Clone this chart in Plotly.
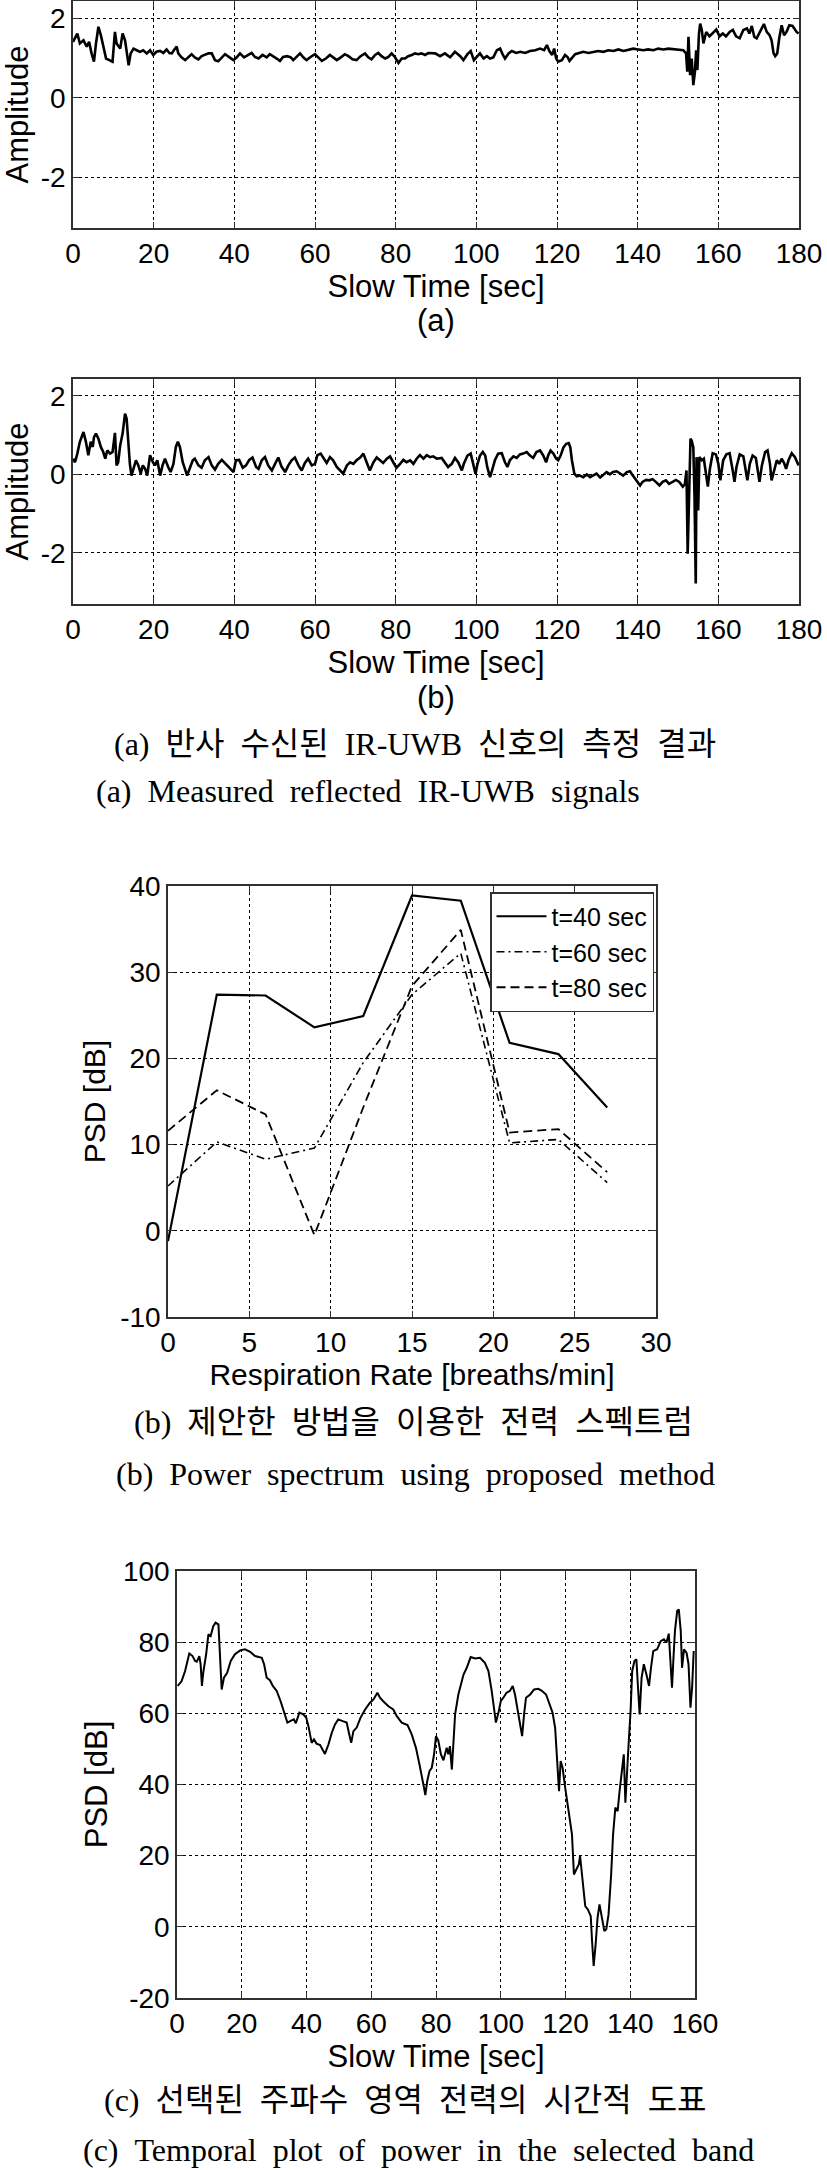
import plotly.graph_objects as go

W, H = 827, 2170

# ---------------- Panel (a): reflected signal, raw ----------------
a_t = [0, 1.07, 1.7, 2.6, 3.4, 4, 4.6, 5.2, 5.7, 6.3,
       6.9, 7.5, 8.2, 9, 9.8, 10.4, 10.8, 11.7, 12.3, 12.9,
       13.3, 13.8, 14.3, 15, 15.8, 16.6, 17.4, 18.3, 19.1, 19.9,
       20.7, 21.6, 22.4, 23.2, 23.9, 24.5, 25, 25.7, 26.1, 26.9,
       27.8, 28.6, 29.4, 30.2, 31.1, 31.9, 32.7, 33.6, 34.4, 35.2,
       36, 36.9, 37.7, 38.8, 39.8, 40.6, 41.4, 42.4, 43.5, 44.3,
       45.1, 46, 47, 48, 48.8, 49.7, 50.5, 51.3, 52.1, 53.1,
       54, 54.6, 55.5, 56.3, 57.1, 57.9, 58.9, 60, 60.8, 61.7,
       62.7, 63.7, 64.5, 65.4, 66.4, 67.4, 68.3, 69.3, 70.3, 71.3,
       72.4, 73.2, 74, 74.9, 75.7, 76.5, 77.4, 78.2, 79, 79.8,
       80.7, 81.5, 82.3, 83.1, 84, 84.8, 85.6, 86.4, 87.3, 88.1,
       89.8, 91, 92.2, 93.5, 94.7, 96, 96.8, 97.8, 98.6, 99.4,
       100.1, 100.9, 101.8, 102.6, 103.4, 104.2, 105.1, 105.9, 106.6, 107.1,
       108, 108.8, 109.9, 110.9, 112.1, 113.3, 114.6, 115.8, 116.8, 117.5,
       118.1, 118.8, 119.3, 119.8, 120.3, 121.2, 122, 122.6, 123.1, 123.6,
       124.5, 125.5, 126.5, 127.8, 129, 130.2, 131.5, 132.7, 134, 135.2,
       136.5, 137.7, 138.9, 140.2, 141.4, 142.6, 143.9, 145.1, 146.4, 147.6,
       148.9, 150.1, 151.3, 152, 152.3, 152.6, 153, 153.4, 153.8, 154.2,
       154.5, 154.8, 155.2, 155.5, 155.9, 156.3, 157, 157.8, 158.6, 159.5,
       160.3, 161.1, 161.9, 162.8, 163.6, 164.4, 165.3, 166.2, 167.1, 167.7,
       168.3, 168.9, 169.5, 170.2, 170.8, 171.3, 172, 172.7, 173.2, 173.7,
       174.1, 174.6, 175.1, 175.7, 176.3, 176.9, 177.6, 178.4, 179.4, 179.9]
a_v = [1.41, 1.62, 1.37, 1.45, 1.29, 1.41, 1.12, 0.91, 1.37, 1.79,
       1.58, 1.29, 0.99, 0.95, 0.91, 1.66, 1.37, 1.24, 1.62, 1.45,
       1.12, 0.82, 1.12, 1.24, 1.2, 1.16, 1.2, 1.12, 1.2, 1.08,
       1.16, 1.18, 1.13, 1.22, 1.13, 1.12, 1.2, 1.29, 1.12, 1.02,
       0.95, 1.02, 1.1, 1.02, 0.97, 1.05, 1.08, 1.12, 1.12, 0.95,
       0.92, 1.03, 1.1, 1.02, 0.95, 1.02, 1.12, 1.02, 1.08, 1.13,
       1.03, 0.99, 1.08, 1.02, 1.1, 1.05, 0.99, 0.93, 1.03, 1.05,
       1.02, 0.95, 1.03, 1.12, 1.02, 0.95, 1.03, 1.1, 1.02, 0.93,
       0.99, 1.08, 1.02, 0.95, 1.02, 1.1, 1.05, 0.97, 0.95, 1.05,
       1.12, 1.02, 0.97, 1.08, 1.13, 1.05, 0.99, 1.03, 1.12, 1.03,
       0.88, 0.99, 0.99, 1.05, 1.08, 1.12, 1.1, 1.12, 1.08, 1.13,
       1.12, 1.05, 1.12, 1.02, 1.16, 1.05, 0.95, 1.1, 1.18, 0.95,
       1.03, 1.12, 0.99, 1.05, 0.99, 1.02, 1.2, 1.24, 1.08, 0.99,
       1.12, 1.18, 1.13, 1.16, 1.13, 1.18, 1.2, 1.24, 1.2, 1.33,
       1.18, 1.08, 1.24, 0.99, 0.91, 0.95, 1.08, 1.03, 0.93, 0.99,
       1.1, 1.13, 1.16, 1.13, 1.16, 1.18, 1.16, 1.2, 1.18, 1.22,
       1.18, 1.22, 1.24, 1.22, 1.2, 1.22, 1.2, 1.24, 1.22, 1.24,
       1.22, 1.2, 1.2, 1.12, 0.66, 1.54, 0.57, 0.99, 0.32, 0.66,
       1.2, 0.7, 1.62, 1.87, 1.71, 1.37, 1.66, 1.55, 1.62, 1.72,
       1.55, 1.62, 1.55, 1.66, 1.71, 1.55, 1.5, 1.71, 1.75, 1.62,
       1.81, 1.54, 1.5, 1.64, 1.75, 1.86, 1.66, 1.58, 1.45, 1.12,
       1.05, 1.12, 1.5, 1.83, 1.58, 1.66, 1.83, 1.81, 1.66, 1.62]

# ---------------- Panel (b): reflected signal, processed ----------------
b_t = [0, 0.5, 1.07, 1.7, 2.6, 3.2, 3.8, 4.4, 4.9, 5.2,
       5.7, 6.3, 6.9, 7.5, 8, 8.5, 9.2, 9.8, 10.4, 10.8,
       11.2, 11.7, 12.3, 12.9, 13.3, 13.7, 14.1, 14.5, 15, 15.6,
       16.2, 16.8, 17.3, 17.9, 18.4, 19.1, 19.8, 20.3, 20.9, 21.6,
       22.2, 22.8, 23.6, 24.2, 24.9, 25.5, 26, 26.5, 27.2, 27.8,
       28.3, 29, 29.7, 30.2, 31.1, 31.9, 32.7, 33.6, 34.4, 35.2,
       36, 36.9, 37.9, 38.9, 39.8, 40.4, 41.2, 42.1, 42.9, 43.7,
       44.5, 45.4, 46, 46.8, 47.6, 48.4, 49.3, 50.1, 50.9, 51.7,
       52.6, 53.4, 54.2, 55, 55.9, 56.7, 57.5, 58.3, 59.2, 60,
       60.6, 61.4, 62.2, 62.9, 63.7, 64.5, 65.4, 66.2, 67, 67.9,
       68.7, 69.5, 70.3, 71.2, 72, 72.8, 73.6, 74.5, 75.3, 76.1,
       76.9, 77.8, 78.6, 79.4, 80.2, 81.1, 81.9, 82.7, 83.6, 84.4,
       85.2, 86, 86.9, 87.7, 88.5,
       89.3, 90.2, 91.4, 92.2, 93, 93.9, 94.7, 95.5, 96.4, 96.9,
       97.8, 98.6, 99.3, 99.8, 100.3, 100.9, 101.6, 102.2, 102.7, 103.4,
       103.9, 104.6, 105.4, 106.3, 107.1, 107.7, 108.3, 109.2, 110, 110.8,
       111.6, 112.5, 113.3, 114.1, 114.9, 115.8, 116.6, 117.3, 117.8, 118.4,
       119.1, 119.8, 120.3, 120.9, 121.6, 122.3, 122.9, 123.3, 123.7, 124.3,
       124.9, 125.7, 126.5, 127.4, 128.2, 129, 129.8, 130.7, 131.5, 132.3,
       133.1, 133.9, 134.8, 135.6, 136.4, 137.3, 138.1, 138.8, 139.4, 139.9,
       140.6, 141.2, 142.1, 142.9, 143.7, 144.5, 145.4, 146.2, 147, 147.8,
       148.7, 149.5, 150.3, 151.2, 151.7, 152.1, 152.4, 152.8, 153.1, 153.4,
       153.8, 154.1, 154.4, 154.6, 155, 155.3, 155.9, 156.4, 156.9, 157.4,
       157.9, 158.6, 159.4, 160, 160.5, 161.2, 162, 162.8, 163.5, 164,
       164.5, 165.3, 166.2, 166.8, 167.2, 167.8, 168.5, 169.3, 169.9, 170.2,
       170.8, 171.6, 172.2, 172.8, 173.2, 173.8, 174.5, 175.1, 175.7, 176.3,
       176.8, 177.4, 178.2, 179, 179.9]
b_v = [0.4, 0.31, 0.53, 0.83, 1.08, 0.83, 0.49, 0.83, 0.7, 0.95,
       1.04, 0.91, 0.7, 0.57, 0.4, 0.61, 0.53, 0.57, 1.06, 0.23,
       0.31, 0.74, 1.04, 1.55, 1.42, 0.7, 0.27, -0.03, 0.14, 0.36,
       0.23, 0.02, 0.23, 0.14, -0.03, 0.49, 0.31, 0.23, 0.36, -0.03,
       0.23, 0.4, 0.19, 0.06, 0.27, 0.7, 0.83, 0.7, 0.31, 0.1,
       -0.03, 0.17, 0.36, 0.4, 0.23, 0.17, 0.36, 0.44, 0.23, 0.12,
       0.27, 0.37, 0.27, 0.17, 0.06, 0.36, 0.37, 0.17, 0.23, 0.37,
       0.43, 0.19, 0.14, 0.36, 0.44, 0.23, 0.1, 0.27, 0.43, 0.2,
       0.06, 0.23, 0.36, 0.43, 0.23, 0.1, 0.29, 0.4, 0.23, 0.27,
       0.49, 0.53, 0.4, 0.29, 0.44, 0.36, 0.19, 0.1, 0.02, 0.23,
       0.31, 0.27, 0.36, 0.43, 0.53, 0.31, 0.1, 0.31, 0.43, 0.36,
       0.29, 0.4, 0.46, 0.31, 0.17, 0.27, 0.37, 0.31, 0.36, 0.27,
       0.4, 0.49, 0.4, 0.49, 0.44,
       0.46, 0.4, 0.42, 0.31, 0.19, 0.27, 0.42, 0.31, 0.1, 0.27,
       0.48, 0.53, 0.27, 0.02, 0.27, 0.48, 0.57, 0.48, 0.19, -0.07,
       0.1, 0.36, 0.53, 0.54, 0.31, 0.19, 0.36, 0.46, 0.42, 0.51,
       0.53, 0.57, 0.48, 0.42, 0.57, 0.61, 0.48, 0.31, 0.48, 0.61,
       0.53, 0.4, 0.36, 0.48, 0.69, 0.78, 0.8, 0.69, 0.36, 0.02,
       -0.05, -0.03, -0.07, 0, -0.07, -0.03, 0.02, -0.08, 0, 0.06,
       0, 0.06, 0.08, 0.02, -0.03, 0.06, 0.08, -0.03, -0.11, -0.17,
       -0.28, -0.19, -0.14, -0.15, -0.12, -0.19, -0.28, -0.19, -0.15, -0.24,
       -0.19, -0.14, -0.19, -0.31, -0.25, 0.1, -2.02, 0.14, 0.91, 0.86,
       0.69, -0.58, -2.78, 0.44, -0.92, 0.44, 0.36, 0.4, 0.02, -0.31,
       0.14, 0.54, 0.51, 0.27, -0.15, 0.36, 0.51, 0.54, 0.14, -0.19,
       0.19, 0.51, 0.46, 0.06, -0.15, 0.27, 0.48, 0.42, 0.02, -0.19,
       0.23, 0.57, 0.61, 0.27, -0.15, 0.1, 0.36, 0.27, 0.4, 0.29,
       0.14, 0.36, 0.54, 0.44, 0.23]

# ---------------- Power spectrum ----------------
rate = [0, 3, 6, 9, 12, 15, 18, 21, 24, 27]
psd_t40 = [-1.2, 27.4, 27.3, 23.6, 24.9, 38.9, 38.3, 21.8, 20.5, 14.3]
psd_t60 = [5.2, 10.3, 8.3, 9.6, 19.5, 27.4, 32.2, 10.2, 10.6, 5.6]
psd_t80 = [11.6, 16.3, 13.5, -0.5, 14.3, 28.4, 34.9, 11.4, 11.8, 6.8]
psd_names = ["t=40 sec", "t=60 sec", "t=80 sec"]

# ---------------- Temporal band power ----------------
c_t = [0.2, 1.4, 2.5, 3.8, 4.8, 5.6, 6.1, 6.9, 7.3, 7.7,
       8.1, 9, 9.7, 10.4, 11.2, 11.9, 12.8, 13.3, 13.8, 14.5,
       15.5, 16.6, 17.9, 19.5, 21, 22.6, 24.1, 26.2, 26.9, 27.7,
       28.7, 29.6, 30.8, 32, 33.4, 34.1, 35.4, 36.1, 36.7, 37.8,
       39, 39.9, 40.6, 41.6, 42.3, 43.1, 44.2, 45, 45.7, 46.8,
       47.8, 48.8, 49.8, 51.2, 52.4, 53.2, 53.8, 54.5, 55.5, 56.7,
       58.1, 59.6, 60.7, 61.9, 62.7, 63.7, 65.3, 66.8, 67.9, 69.4,
       71.2, 72.5, 73.8, 74.9, 75.6, 76.3, 76.7, 77.3, 78, 78.7,
       79.4, 80, 80.7, 81.5, 82.3, 83.3, 83.8, 84.3, 84.9, 85.4,
       85.9, 86.9, 88.5, 89.5, 90.7, 92.1, 93.6, 95.1, 96.2, 97.2,
       97.9, 98.5, 99.3, 100, 100.8, 101.8, 102.8, 103.7, 104.4, 105.4,
       106.2, 106.6, 107.2, 107.8, 109.1, 110.3, 111.6, 112.6, 114, 115,
       116, 116.8, 117.3, 117.7, 118, 118.5, 119.1, 119.9, 120.5, 121.4,
       122, 122.6, 123.4, 124.1, 124.5, 125, 125.5, 126.1, 126.9, 127.8,
       128.2, 128.7, 129.3, 129.9, 130.5, 131.3, 132, 132.6, 133.3, 134.1,
       134.7, 135.4, 136.1, 136.7, 137.5, 138, 138.5, 139.1, 139.6, 140.1,
       140.6, 141.3, 141.9, 142.4, 142.9, 143.5, 144.2, 145, 145.8, 146.4,
       147.1, 148.3, 149.4, 150.4, 151.2, 151.9, 152.5, 152.9, 153.3, 153.8,
       154.5, 155, 155.6, 156, 156.6, 157.4, 158, 158.6, 159.1, 159.6]
c_v = [67.7, 69, 71.9, 76.8, 76.1, 74.7, 74.5, 76.1, 73.8, 67.7,
       71.4, 76.6, 82.2, 81.7, 84.5, 85.5, 85, 76.6, 66.7, 70,
       71.4, 74.7, 76.6, 77.7, 78, 77.3, 76.1, 75.6, 73.8, 70,
       69.3, 67.7, 66.3, 63.4, 59.7, 57.4, 58, 58.3, 57.2, 60.2,
       59.7, 58.8, 56.4, 51.7, 52.7, 51.5, 51.1, 49.9, 48.6, 51.3,
       54.5, 56.9, 58.3, 57.8, 57.4, 54.1, 51.7, 55, 56, 58.8,
       61.1, 63, 63.9, 65.8, 64.4, 63.4, 62, 61.1, 59.2, 57.4,
       56.7, 54.1, 50.3, 45.6, 42.8, 39.1, 37, 41, 43.8, 44.7,
       48.5, 53.6, 52.4, 48.5, 46.8, 50.3, 48.5, 50.8, 44.2, 52.2,
       59.7, 65.3, 70.9, 72.8, 75.8, 75.4, 75.6, 74.2, 71.9, 66.3,
       61.6, 57.4, 60.2, 63.4, 64.4, 65.8, 66.3, 67.7, 65.3, 59.7,
       55.5, 53.6, 59.7, 64.4, 65.3, 66.7, 66.9, 66.4, 65.3, 63,
       60.2, 55.9, 49.4, 42.8, 38.1, 46.6, 44.7, 39.1, 35.3, 30.6,
       26, 14.7, 16.1, 17.5, 19.9, 15.7, 11, 5.8, 4.9, 3,
       -4, -11, -5, 2.5, 6.3, 2.1, -1.2, -0.7, 3.5, 14.7,
       26, 33.5, 32.5, 38.1, 45.6, 48.5, 34.9, 46.6, 53.1, 60.6,
       71.9, 74.7, 75.2, 67.2, 59.7, 70, 73.8, 70.9, 67.7, 72.8,
       77.5, 78, 80.3, 80.8, 79.9, 82.4, 74.7, 67.2, 74.7, 83.1,
       88.8, 89.2, 83.1, 72.8, 78, 77, 73.8, 61.6, 67.2, 77.5]

assert len(a_t) == len(a_v) and len(b_t) == len(b_v) and len(c_t) == len(c_v)

# ---------------- tick labels ----------------
amp_ticks = [-2, 0, 2]
slow_ticks_a = list(range(0, 181, 20))
rate_ticks = [0, 5, 10, 15, 20, 25, 30]
psd_ticks = [-10, 0, 10, 20, 30, 40]
slow_ticks_c = list(range(0, 161, 20))
band_ticks = list(range(-20, 101, 20))

# ---------------- captions ----------------
GAP = "\u00a0\u00a0"
cap_a_panel = "(a)"
cap_b_panel = "(b)"
cap_a_ko = GAP.join(["(a)", "반사", "수신된", "IR-UWB", "신호의", "측정", "결과"])
cap_a_en = GAP.join(["(a)", "Measured", "reflected", "IR-UWB", "signals"])
cap_b_ko = GAP.join(["(b)", "제안한", "방법을", "이용한", "전력", "스펙트럼"])
cap_b_en = GAP.join(["(b)", "Power", "spectrum", "using", "proposed", "method"])
cap_c_ko = GAP.join(["(c)", "선택된", "주파수", "영역", "전력의", "시간적", "도표"])
cap_c_en = GAP.join(["(c)", "Temporal", "plot", "of", "power", "in", "the", "selected", "band"])

SANS = "Liberation Sans, Arial, sans-serif"
SERIF = "Liberation Serif, Times New Roman, Noto Sans CJK KR, serif"


def xd(l, r):
    return [l / W, r / W]


def yd(top, bottom):
    return [1 - bottom / H, 1 - top / H]


def axis(domain, rng, tickvals, fs, title, fs_t, standoff, anchor):
    return dict(domain=domain, range=rng, tickvals=tickvals,
                ticktext=[str(v) for v in tickvals],
                anchor=anchor,
                showline=True, linecolor="#303030", linewidth=1.5, mirror="ticks",
                ticks="inside", ticklen=6, tickcolor="#303030",
                showgrid=True, gridcolor="black", griddash="3px,3px", gridwidth=1,
                zeroline=False, tickfont=dict(family=SANS, size=fs, color="black"),
                title=dict(text=title, font=dict(family=SANS, size=fs_t, color="black"),
                           standoff=standoff),
                automargin=False, fixedrange=True)


fig = go.Figure()

fig.add_trace(go.Scatter(x=a_t, y=a_v, xaxis="x", yaxis="y", mode="lines",
                         line=dict(color="black", width=2.6), showlegend=False))
fig.add_trace(go.Scatter(x=b_t, y=b_v, xaxis="x2", yaxis="y2", mode="lines",
                         line=dict(color="black", width=2.6), showlegend=False))
dashes = ["solid", "8px,4px,2px,4px", "9px,5px"]
widths = [2.2, 1.6, 1.8]
for name, vals, d, w in zip(psd_names, [psd_t40, psd_t60, psd_t80], dashes, widths):
    fig.add_trace(go.Scatter(x=rate, y=vals, xaxis="x3", yaxis="y3", mode="lines",
                             name=name, line=dict(color="black", width=w, dash=d)))
fig.add_trace(go.Scatter(x=c_t, y=c_v, xaxis="x4", yaxis="y4", mode="lines",
                         line=dict(color="black", width=2), showlegend=False))

fig.update_layout(
    width=W, height=H, margin=dict(l=0, r=0, t=0, b=0),
    paper_bgcolor="white", plot_bgcolor="white",
    xaxis=axis(xd(73, 799), [0, 180], slow_ticks_a, 28, "Slow Time [sec]", 31, 6, "y"),
    yaxis=axis(yd(1, 228), [-3.28, 2.44], amp_ticks, 28, "Amplitude", 31, 15, "x"),
    xaxis2=axis(xd(73, 799), [0, 180], slow_ticks_a, 28, "Slow Time [sec]", 31, 6, "y2"),
    yaxis2=axis(yd(379, 604), [-3.3, 2.43], amp_ticks, 28, "Amplitude", 31, 15, "x2"),
    xaxis3=axis(xd(168, 656), [0, 30], rate_ticks, 28,
                "Respiration Rate [breaths/min]", 30, 2, "y3"),
    yaxis3=axis(yd(886, 1317), [-10, 40], psd_ticks, 28, "PSD [dB]", 30, 6, "x3"),
    xaxis4=axis(xd(177, 695), [0, 160], slow_ticks_c, 28, "Slow Time [sec]", 31, 0, "y4"),
    yaxis4=axis(yd(1571, 1998), [-20, 100], band_ticks, 28, "PSD [dB]", 31, 6, "x4"),
    legend=dict(x=654 / W, y=1 - 892 / H, xanchor="right", yanchor="top",
                bgcolor="white", bordercolor="#303030", borderwidth=1.5,
                font=dict(family=SANS, size=25, color="black"),
                itemwidth=50, tracegroupgap=0),
    showlegend=True,
)

ann = [
    (cap_a_panel, 436, 320, SANS, 31),
    (cap_b_panel, 436, 697, SANS, 31),
    (cap_a_ko, 415, 744, SERIF, 32),
    (cap_a_en, 368, 791, SERIF, 32),
    (cap_b_ko, 413, 1422, SERIF, 32),
    (cap_b_en, 415, 1474, SERIF, 32),
    (cap_c_ko, 405, 2100, SERIF, 32),
    (cap_c_en, 418, 2150, SERIF, 32),
]
for text, x, y, fam, fs in ann:
    fig.add_annotation(text=text, x=x / W, y=1 - y / H, xref="paper", yref="paper",
                       xanchor="center", yanchor="middle", showarrow=False,
                       font=dict(family=fam, size=fs, color="black"))

fig.write_html("out.html",
               config={"displayModeBar": False},
               post_script="document.body.style.margin='0';"
                           "document.body.style.overflow='hidden';")
